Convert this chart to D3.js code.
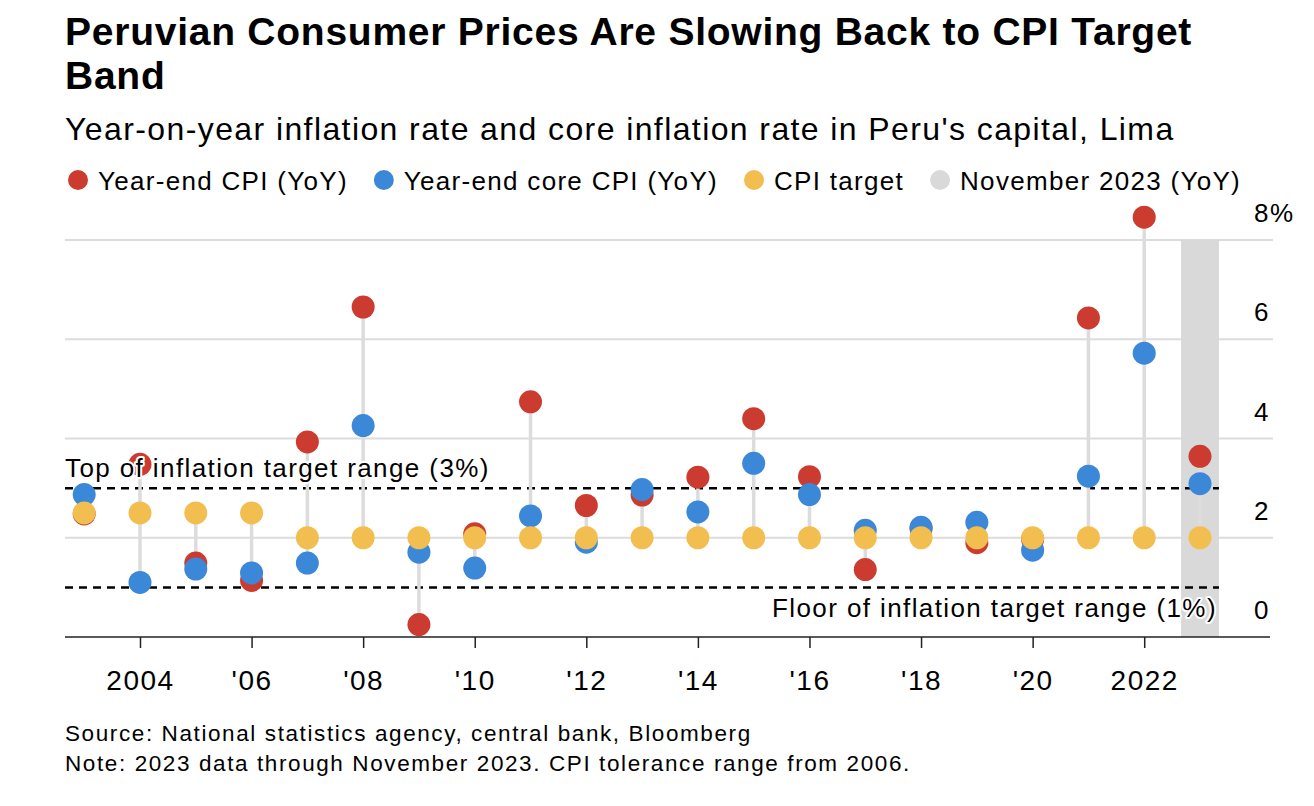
<!DOCTYPE html>
<html>
<head>
<meta charset="utf-8">
<script src="https://cdn.jsdelivr.net/npm/d3@7"></script>
<style>
  html, body { margin: 0; padding: 0; background: #fff; }
  svg { display: block; font-family: "Liberation Sans", Arial, Helvetica, sans-serif; }
</style>
</head>
<body>
<svg id="chart" width="1314" height="806"></svg>
<script>
// ---- Data ----
const years = [2003, 2004, 2005, 2006, 2007, 2008, 2009, 2010, 2011, 2012, 2013,
               2014, 2015, 2016, 2017, 2018, 2019, 2020, 2021, 2022, 2023];
const cpi =    [2.48, 3.48, 1.49, 1.14, 3.93, 6.65, 0.25, 2.08, 4.74, 2.65, 2.86,
                3.22, 4.40, 3.23, 1.36, 2.19, 1.90, 1.97, 6.43, 8.46, 3.64];
const coreCpi = [2.87, 1.10, 1.37, 1.29, 1.49, 4.26, 1.71, 1.39, 2.44, 1.91, 2.97,
                 2.52, 3.50, 2.87, 2.15, 2.21, 2.31, 1.75, 3.24, 5.72, 3.09];
const target = [2.5, 2.5, 2.5, 2.5, 2, 2, 2, 2, 2, 2, 2,
                2, 2, 2, 2, 2, 2, 2, 2, 2, 2];
const yTicks = [0, 2, 4, 6, 8];
const xTickYears = [2004, 2006, 2008, 2010, 2012, 2014, 2016, 2018, 2020, 2022];
const xTickLabels = ["2004", "'06", "'08", "'10", "'12", "'14", "'16", "'18", "'20", "2022"];
const targetTop = 3, targetFloor = 1;
const partialYear = 2023;
const legendItems = ["Year-end CPI (YoY)", "Year-end core CPI (YoY)", "CPI target", "November 2023 (YoY)"];
const colors = ["#cc3b2f", "#3b87d8", "#f2be50", "#d9d9d9"];

// ---- Layout ----
const svg = d3.select("#chart");
const x = d3.scaleLinear().domain([2003, 2023]).range([84.2, 1200]);
const y = d3.scaleLinear().domain([0, 8]).range([637, 240]);
const left = 65, gridRight = 1273, axisRight = 1270;
const r = 11.5;

// Title
svg.append("text").attr("x", 65).attr("y", 45)
  .attr("font-size", 39).attr("font-weight", "bold").attr("letter-spacing", 0.75).attr("fill", "#000")
  .text("Peruvian Consumer Prices Are Slowing Back to CPI Target");
svg.append("text").attr("x", 65).attr("y", 89)
  .attr("font-size", 39).attr("font-weight", "bold").attr("letter-spacing", 0.75).attr("fill", "#000")
  .text("Band");
svg.append("text").attr("x", 65).attr("y", 140)
  .attr("font-size", 32).attr("letter-spacing", 1.4).attr("fill", "#000")
  .text("Year-on-year inflation rate and core inflation rate in Peru's capital, Lima");

// Legend
let lx = 68;
legendItems.forEach((t, i) => {
  svg.append("circle").attr("cx", lx + 10).attr("cy", 180).attr("r", 10).attr("fill", colors[i]);
  const tx = svg.append("text").attr("x", lx + 30).attr("y", 189.5)
    .attr("font-size", 26).attr("letter-spacing", 1.3).attr("fill", "#000").text(t);
  lx = lx + 30 + tx.node().getComputedTextLength() + 26;
});

// Gridlines
svg.append("g").selectAll("line").data(yTicks.filter(d => d > 0)).join("line")
  .attr("x1", left).attr("x2", gridRight)
  .attr("y1", d => y(d)).attr("y2", d => y(d))
  .attr("stroke", "#dcdcdc").attr("stroke-width", 2);

// Y labels
svg.append("g").selectAll("text").data(yTicks).join("text")
  .attr("x", 1254).attr("y", d => y(d) - 18)
  .attr("font-size", 26).attr("letter-spacing", 1.5).attr("fill", "#000")
  .text(d => d === 8 ? "8%" : d);

// November 2023 band
svg.append("rect")
  .attr("x", x(partialYear - 0.34)).attr("width", x(partialYear + 0.34) - x(partialYear - 0.34))
  .attr("y", y(8)).attr("height", y(0) - y(8))
  .attr("fill", colors[3]);

// Target range dashed lines
[targetTop, targetFloor].forEach(v => {
  svg.append("line").attr("x1", left).attr("x2", x(partialYear + 0.34))
    .attr("y1", y(v)).attr("y2", y(v))
    .attr("stroke", "#000").attr("stroke-width", 2.5).attr("stroke-dasharray", "8,6");
});

// Connectors
const rows = years.map((yr, i) => ({ yr, c: cpi[i], k: coreCpi[i], t: target[i] }));
svg.append("g").selectAll("line").data(rows).join("line")
  .attr("x1", d => x(d.yr)).attr("x2", d => x(d.yr))
  .attr("y1", d => y(Math.min(d.c, d.k, d.t))).attr("y2", d => y(Math.max(d.c, d.k, d.t)))
  .attr("stroke", "#dcdcdc").attr("stroke-width", 3.5);

// Dots: CPI, core, target
[["c", 0], ["k", 1], ["t", 2]].forEach(([key, ci]) => {
  svg.append("g").selectAll("circle").data(rows).join("circle")
    .attr("cx", d => x(d.yr)).attr("cy", d => y(d[key])).attr("r", r)
    .attr("fill", colors[ci]);
});

// X axis
const xAxis = d3.axisBottom(x).tickValues(xTickYears)
  .tickFormat((d, i) => xTickLabels[i]).tickSize(11).tickPadding(22);
const gx = svg.append("g").attr("transform", `translate(0,${y(0)})`).call(xAxis);
gx.select(".domain").remove();
gx.selectAll(".tick line").attr("stroke", "#222").attr("stroke-width", 1.5);
gx.selectAll(".tick text").attr("font-size", 28).attr("letter-spacing", 1.5).attr("fill", "#000")
  .attr("font-family", "Liberation Sans, Arial, sans-serif");
svg.append("line").attr("x1", left).attr("x2", axisRight)
  .attr("y1", y(0)).attr("y2", y(0)).attr("stroke", "#222").attr("stroke-width", 1.5);

// Annotations with halo
svg.append("text").attr("x", 65).attr("y", y(targetTop) - 11)
  .attr("font-size", 26).attr("letter-spacing", 1.4).attr("fill", "#000")
  .attr("stroke", "#fff").attr("stroke-width", 4).attr("paint-order", "stroke")
  .attr("stroke-linejoin", "round")
  .text("Top of inflation target range (3%)");
svg.append("text").attr("x", x(partialYear + 0.34) - 2).attr("y", y(targetFloor) + 30)
  .attr("text-anchor", "end")
  .attr("font-size", 26).attr("letter-spacing", 1.4).attr("fill", "#000")
  .attr("stroke", "#fff").attr("stroke-width", 4).attr("paint-order", "stroke")
  .attr("stroke-linejoin", "round")
  .text("Floor of inflation target range (1%)");

// Footer
svg.append("text").attr("x", 65).attr("y", 741).attr("font-size", 22.5).attr("letter-spacing", 1.6).attr("fill", "#000")
  .text("Source: National statistics agency, central bank, Bloomberg");
svg.append("text").attr("x", 65).attr("y", 771).attr("font-size", 22.5).attr("letter-spacing", 1.6).attr("fill", "#000")
  .text("Note: 2023 data through November 2023. CPI tolerance range from 2006.");
</script>
</body>
</html>
